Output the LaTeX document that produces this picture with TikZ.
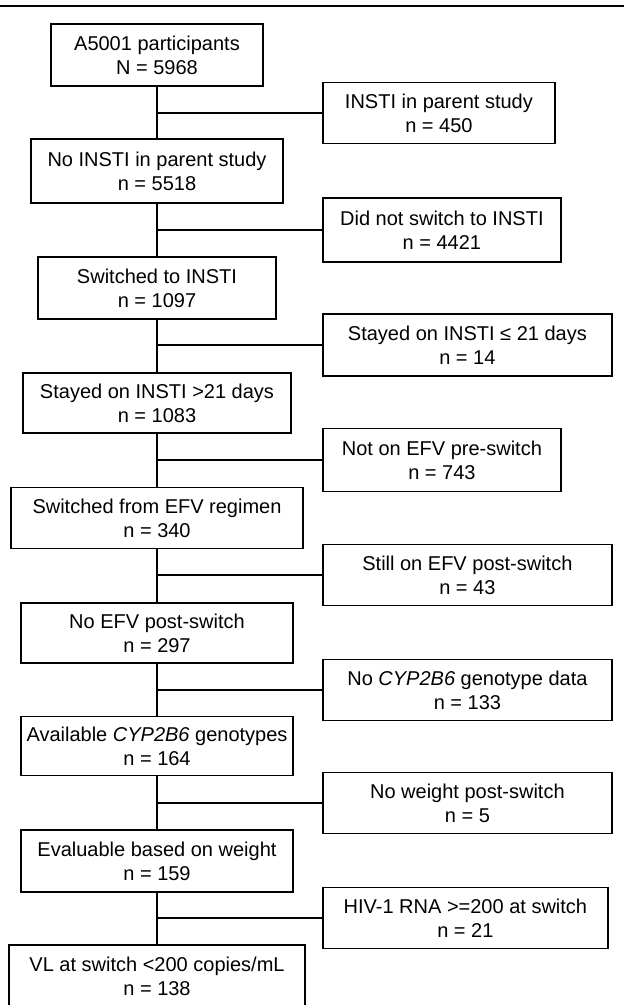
\documentclass[tikz,border=0pt]{standalone}
\usepackage{fontspec}
\setmainfont{Liberation Sans}
\tikzset{
  flowbox/.style={draw,line width=1.8pt,align=center,inner sep=0pt,
    font=\fontsize{20}{24}\selectfont},
  leftbox/.style={flowbox,minimum width=#1},
  sidebox/.style={flowbox,anchor=west,minimum width=#1},
  link/.style={line width=1.8pt},
}

\begin{document}
\begin{tikzpicture}[x=1pt,y=-1pt]
  \useasboundingbox (0,0) rectangle (624,1005);
  % rule along the top
  \draw[line width=1.4pt] (0,6) -- (624,6);
  % main column, kept participants
  \node[leftbox=212pt,minimum height=62pt] (l1) at (157,55)
    {A5001 participants\\N = 5968};
  \node[leftbox=252pt,minimum height=64pt] (l2) at (157,171)
    {No INSTI in parent study\\n = 5518};
  \node[leftbox=238pt,minimum height=62pt] (l3) at (157,288)
    {Switched to INSTI\\n = 1097};
  \node[leftbox=268pt,minimum height=60pt] (l4) at (157,403)
    {Stayed on INSTI >21 days\\n = 1083};
  \node[leftbox=292pt,minimum height=61pt] (l5) at (157,518)
    {Switched from EFV regimen\\n = 340};
  \node[leftbox=272pt,minimum height=60pt] (l6) at (157,633)
    {No EFV post-switch\\n = 297};
  \node[leftbox=272pt,minimum height=59pt] (l7) at (157,746)
    {Available \textit{CYP2B6} genotypes\\n = 164};
  \node[leftbox=272pt,minimum height=62pt] (l8) at (157,861)
    {Evaluable based on weight\\n = 159};
  \node[leftbox=296pt,minimum height=62pt] (l9) at (157,976)
    {VL at switch <200 copies/mL\\n = 138};
  % exclusions on the right
  \node[sidebox=232pt,minimum height=61pt] (r1) at (322,113)
    {INSTI in parent study\\n = 450};
  \node[sidebox=238pt,minimum height=64pt] (r2) at (322,230)
    {Did not switch to INSTI\\n = 4421};
  \node[sidebox=289pt,minimum height=62pt] (r3) at (322,345)
    {Stayed on INSTI ≤ 21 days\\n = 14};
  \node[sidebox=238pt,minimum height=63pt] (r4) at (322,460)
    {Not on EFV pre-switch\\n = 743};
  \node[sidebox=289pt,minimum height=61pt] (r5) at (322,575)
    {Still on EFV post-switch\\n = 43};
  \node[sidebox=289pt,minimum height=61pt] (r6) at (322,690)
    {No \textit{CYP2B6} genotype data\\n = 133};
  \node[sidebox=289pt,minimum height=61pt] (r7) at (322,803)
    {No weight post-switch\\n = 5};
  \node[sidebox=285pt,minimum height=61pt] (r8) at (322,918)
    {HIV-1 RNA >=200 at switch\\n = 21};
  % trunk and branches
  \foreach \up/\down/\side in {l1/l2/r1,l2/l3/r2,l3/l4/r3,l4/l5/r4,
      l5/l6/r5,l6/l7/r6,l7/l8/r7,l8/l9/r8}{
    \draw[link] (\up) -- (\down);
    \draw[link] (\up.south |- \side.west) -- (\side);
  }
\end{tikzpicture}
\end{document}
